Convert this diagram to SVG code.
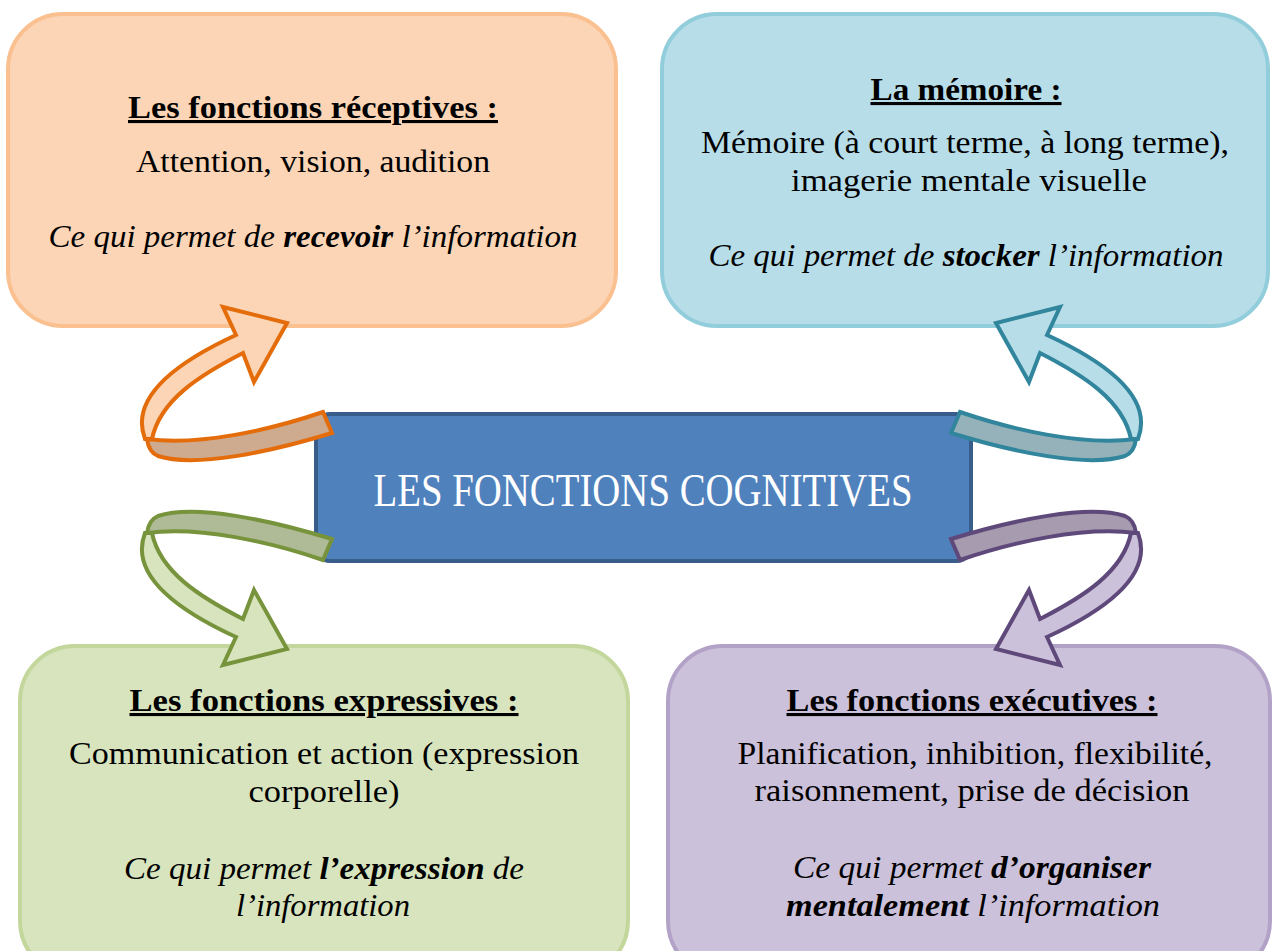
<svg xmlns="http://www.w3.org/2000/svg" width="1272" height="951" viewBox="0 0 1272 951">
<style>
.box{stroke-width:4}
.t{font-family:"Liberation Serif",serif;font-size:31px;fill:#000;text-anchor:middle}
.h{font-weight:bold;text-decoration:underline}
.i{font-style:italic}
.b{font-weight:bold}
.arr{stroke-width:4;stroke-linejoin:miter}
.light{fill:var(--l)}
.dark{fill:var(--d)}
</style>
<defs>
<g id="arrowShape">
<path class="light" d="M 236,335 L 223,307 L 287,323 L 254,382 L 243,353 C 200,375 160,400 152,439 L 145,439 C 132,405 160,370 236,335 Z"/>
<path class="dark" d="M 147,439 C 200,446 270,430 323,412 L 332,433 C 270,452 195,468 158,456 C 151,453 148,447 147,439 Z"/>
</g>
</defs>
<rect width="1272" height="951" fill="#ffffff"/>
<g id="receptives">
<rect class="box" x="8" y="14" width="608" height="312" rx="55" fill="#FBD5B5" stroke="#FAC090"/>
<text class="t h" x="313" y="118" textLength="370" lengthAdjust="spacingAndGlyphs">Les fonctions réceptives :</text>
<text class="t" x="313" y="172" textLength="354" lengthAdjust="spacingAndGlyphs">Attention, vision, audition</text>
<text class="t i" x="313" y="247" textLength="529" lengthAdjust="spacingAndGlyphs">Ce qui permet de <tspan class="b">recevoir</tspan> l’information</text>
</g>
<g id="memoire">
<rect class="box" x="662" y="14" width="606" height="312" rx="55" fill="#B7DDE8" stroke="#92CDDC"/>
<text class="t h" x="966" y="100" textLength="191" lengthAdjust="spacingAndGlyphs">La mémoire :</text>
<text class="t" x="965" y="153" textLength="528" lengthAdjust="spacingAndGlyphs">Mémoire (à court terme, à long terme),</text>
<text class="t" x="969" y="191" textLength="356" lengthAdjust="spacingAndGlyphs">imagerie mentale visuelle</text>
<text class="t i" x="966" y="266" textLength="515" lengthAdjust="spacingAndGlyphs">Ce qui permet de <tspan class="b">stocker</tspan> l’information</text>
</g>
<g id="expressives">
<rect class="box" x="20" y="646" width="608" height="330" rx="55" fill="#D7E4BD" stroke="#C3D69B"/>
<text class="t h" x="324" y="711" textLength="389" lengthAdjust="spacingAndGlyphs">Les fonctions expressives :</text>
<text class="t" x="324" y="764" textLength="510" lengthAdjust="spacingAndGlyphs">Communication et action (expression</text>
<text class="t" x="324" y="802" textLength="151" lengthAdjust="spacingAndGlyphs">corporelle)</text>
<text class="t i" x="324" y="879" textLength="400" lengthAdjust="spacingAndGlyphs">Ce qui permet <tspan class="b">l’expression</tspan> de</text>
<text class="t i" x="323" y="916" textLength="174" lengthAdjust="spacingAndGlyphs">l’information</text>
</g>
<g id="executives">
<rect class="box" x="668" y="646" width="602" height="330" rx="55" fill="#CCC1DA" stroke="#B3A2C7"/>
<text class="t h" x="972" y="711" textLength="371" lengthAdjust="spacingAndGlyphs">Les fonctions exécutives :</text>
<text class="t" x="975" y="764" textLength="475" lengthAdjust="spacingAndGlyphs">Planification, inhibition, flexibilité,</text>
<text class="t" x="972" y="801" textLength="435" lengthAdjust="spacingAndGlyphs">raisonnement, prise de décision</text>
<text class="t i" x="972" y="878" textLength="358" lengthAdjust="spacingAndGlyphs">Ce qui permet <tspan class="b">d’organiser</tspan></text>
<text class="t i" x="973" y="916" textLength="374" lengthAdjust="spacingAndGlyphs"><tspan class="b">mentalement</tspan> l’information</text>
</g>
<g id="center">
<rect x="316" y="414" width="655" height="147" rx="14" fill="#4F81BD" stroke="#385D8A" stroke-width="4"/>
<text x="643" y="506" font-family="Liberation Serif, serif" font-size="46" fill="#ffffff" text-anchor="middle" textLength="539" lengthAdjust="spacingAndGlyphs">LES FONCTIONS COGNITIVES</text>
</g>
<g id="connectors">
<g id="arrow-receptives" class="arr" stroke="#E46C0A" style="--l:#FBD5B5;--d:#CEAA8E">
<use href="#arrowShape"/>
</g>
<g id="arrow-memoire" class="arr" stroke="#31859C" style="--l:#B7DDE8;--d:#95B2BA" transform="translate(1283,0) scale(-1,1)">
<use href="#arrowShape"/>
</g>
<g id="arrow-expressives" class="arr" stroke="#77933C" style="--l:#D7E4BD;--d:#AEBB96" transform="translate(0,972) scale(1,-1)">
<use href="#arrowShape"/>
</g>
<g id="arrow-executives" class="arr" stroke="#5F497A" style="--l:#CCC1DA;--d:#A69BAF" transform="translate(1283,972) scale(-1,-1)">
<use href="#arrowShape"/>
</g>
</g>
</svg>
